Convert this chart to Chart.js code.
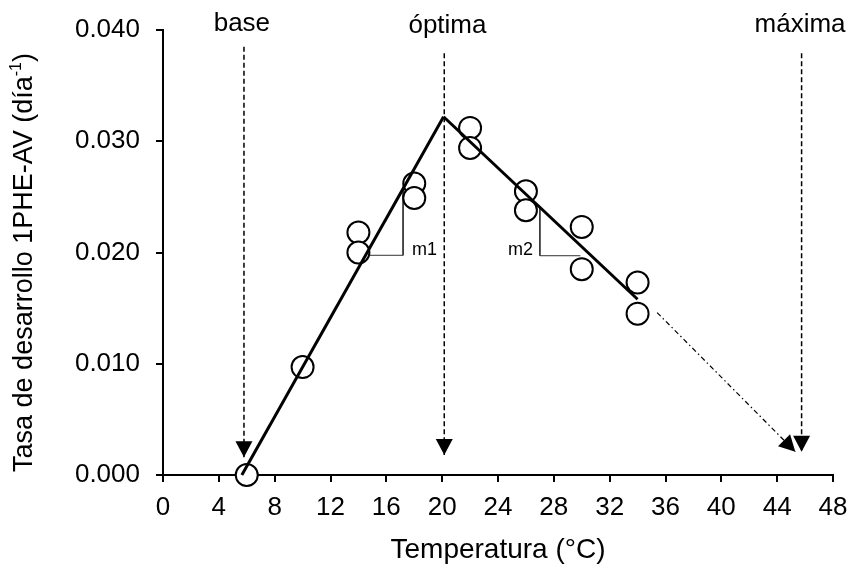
<!DOCTYPE html>
<html>
<head>
<meta charset="utf-8">
<script src="https://cdn.jsdelivr.net/npm/chart.js@4.4.0/dist/chart.umd.min.js"></script>
<style>
  html, body { margin: 0; padding: 0; background: #fff; }
  #wrap { width: 851px; height: 565px; }
</style>
</head>
<body>
<div id="wrap"><canvas id="chart" width="851" height="565"></canvas></div>
<script>
// observed development rate vs temperature
const tempObs = [6, 10, 14, 14, 18, 18, 22, 22, 26, 26, 30, 30, 34, 34];
const rateObs = [0.0000, 0.0097, 0.0218, 0.0200, 0.0262, 0.0249, 0.0312, 0.0294, 0.0255, 0.0238, 0.0223, 0.0185, 0.0173, 0.0145];

// fitted segments
const riseT = [5.65, 20.1];
const riseR = [0.0, 0.0322];
const fallT = [20.1, 34.0];
const fallR = [0.0322, 0.0158];
const extT = [35.4, 45.3];
const extR = [0.0146, 0.0021];

// cardinal temperatures (dashed arrows)
const cardNames = ['base', 'óptima', 'máxima'];
const cardT = [5.8, 20.15, 45.75];
const cardTop = [0.0385, 0.0379, 0.0379];
const cardTip = [0.0016, 0.0018, 0.0021];
const cardLabelT = [5.65, 20.38, 45.64];
const cardLabelR = [0.0399, 0.0397, 0.0398];

// slope marks
const m1T = [17.2, 17.2, 14.57];
const m1R = [0.02566, 0.01975, 0.01975];
const m2T = [27.0, 27.0, 29.9];
const m2R = [0.02409, 0.01971, 0.01971];
const slopeNames = ['m1', 'm2'];
const slopeLabelT = [17.84, 26.51];
const slopeLabelR = [0.01978, 0.01978];

const xTicks = [0, 4, 8, 12, 16, 20, 24, 28, 32, 36, 40, 44, 48];
const yTicks = [0, 0.01, 0.02, 0.03, 0.04];

const FONT = '"Liberation Sans", Arial, sans-serif';

function pts(xs, ys) {
  return xs.map((x, i) => ({ x: x, y: ys[i] }));
}

function lineSet(xs, ys, extra) {
  return Object.assign({
    data: pts(xs, ys),
    showLine: true,
    borderColor: '#000',
    pointRadius: 0,
    fill: false,
    clip: false
  }, extra);
}

const datasets = [
  lineSet(riseT, riseR, { borderWidth: 3, order: 0 }),
  lineSet(fallT, fallR, { borderWidth: 3, order: 0 }),
  {
    data: pts(tempObs, rateObs),
    pointRadius: 11,
    pointBorderWidth: 2,
    pointBorderColor: '#000',
    pointBackgroundColor: '#fff',
    showLine: false,
    clip: false,
    order: 1
  },
  lineSet(extT, extR, { borderWidth: 1.2, borderDash: [5, 3, 1.5, 3], arrowEnd: true, order: 2 }),
  lineSet(m1T, m1R, { borderWidth: 1, borderColor: '#333', order: 3 }),
  lineSet(m2T, m2R, { borderWidth: 1, borderColor: '#333', order: 3 })
];
cardT.forEach((t, i) => {
  datasets.push(lineSet([t, t], [cardTop[i], cardTip[i]], {
    borderWidth: 1.5, borderDash: [5, 3], arrowEnd: true, order: 2
  }));
});

// filled triangle at the end of the dataset's last segment
const arrowHeads = {
  id: 'arrowHeads',
  afterDatasetsDraw(chart) {
    const ctx = chart.ctx;
    chart.data.datasets.forEach((ds, i) => {
      if (!ds.arrowEnd) return;
      const els = chart.getDatasetMeta(i).data;
      const a = els[els.length - 2], b = els[els.length - 1];
      const ang = Math.atan2(b.y - a.y, b.x - a.x);
      ctx.save();
      ctx.translate(b.x, b.y);
      ctx.rotate(ang);
      ctx.beginPath();
      ctx.moveTo(0, 0);
      ctx.lineTo(-16, -8.5);
      ctx.lineTo(-16, 8.5);
      ctx.closePath();
      ctx.fillStyle = '#000';
      ctx.fill();
      ctx.restore();
    });
  }
};

const labelsPlugin = {
  id: 'labelsPlugin',
  afterDraw(chart) {
    const ctx = chart.ctx;
    const xs = chart.scales.x, ys = chart.scales.y;
    ctx.save();
    ctx.fillStyle = '#000';
    ctx.textBaseline = 'alphabetic';
    ctx.font = '26px ' + FONT;
    ctx.textAlign = 'center';
    cardNames.forEach((n, i) => {
      ctx.fillText(n, xs.getPixelForValue(cardLabelT[i]), ys.getPixelForValue(cardLabelR[i]));
    });
    ctx.font = '18px ' + FONT;
    slopeNames.forEach((n, i) => {
      ctx.textAlign = i === 0 ? 'left' : 'right';
      ctx.fillText(n, xs.getPixelForValue(slopeLabelT[i]), ys.getPixelForValue(slopeLabelR[i]));
    });

    // y axis title with superscript
    const main = 'Tasa de desarrollo 1PHE-AV (día', sup = '-1', close = ')';
    ctx.translate(25, (chart.chartArea.top + chart.chartArea.bottom) / 2 + 10);
    ctx.rotate(-Math.PI / 2);
    ctx.textAlign = 'left';
    ctx.textBaseline = 'middle';
    ctx.font = '27px ' + FONT;
    const w1 = ctx.measureText(main).width;
    const w3 = ctx.measureText(close).width;
    ctx.font = '16px ' + FONT;
    const w2 = ctx.measureText(sup).width;
    let x0 = -(w1 + w2 + w3) / 2;
    ctx.font = '27px ' + FONT;
    ctx.fillText(main, x0, 0);
    ctx.font = '16px ' + FONT;
    ctx.fillText(sup, x0 + w1, -8);
    ctx.font = '27px ' + FONT;
    ctx.fillText(close, x0 + w1 + w2, 0);
    ctx.restore();
  }
};

new Chart(document.getElementById('chart'), {
  type: 'scatter',
  data: { datasets: datasets },
  options: {
    responsive: false,
    animation: false,
    events: [],
    layout: { padding: { top: 30, right: 18, bottom: 0, left: 0 } },
    plugins: { legend: { display: false }, tooltip: { enabled: false } },
    scales: {
      x: {
        type: 'linear',
        min: 0,
        max: 48,
        afterFit(scale) {
          scale.height = 90;
          scale.paddingLeft = 0;
          scale.paddingRight = 0;
        },
        afterBuildTicks(scale) { scale.ticks = xTicks.map(v => ({ value: v })); },
        grid: { drawOnChartArea: false, drawTicks: true, tickLength: 7, color: '#000', lineWidth: 2 },
        border: { color: '#000', width: 2 },
        ticks: { color: '#000', font: { family: FONT, size: 26 }, padding: 10, maxRotation: 0, autoSkip: false },
        title: { display: true, text: 'Temperatura (°C)', color: '#000', font: { family: FONT, size: 28 }, padding: { top: 0, bottom: -2 } }
      },
      y: {
        type: 'linear',
        min: 0,
        max: 0.04,
        afterFit(scale) {
          scale.width = 163;
          scale.paddingTop = 0;
          scale.paddingBottom = 0;
        },
        afterBuildTicks(scale) { scale.ticks = yTicks.map(v => ({ value: v })); },
        grid: { drawOnChartArea: false, drawTicks: true, tickLength: 7, color: '#000', lineWidth: 2 },
        border: { color: '#000', width: 2 },
        ticks: { color: '#000', font: { family: FONT, size: 26 }, padding: 16, callback: v => Number(v).toFixed(3) }
      }
    }
  },
  plugins: [arrowHeads, labelsPlugin]
});
</script>
</body>
</html>
